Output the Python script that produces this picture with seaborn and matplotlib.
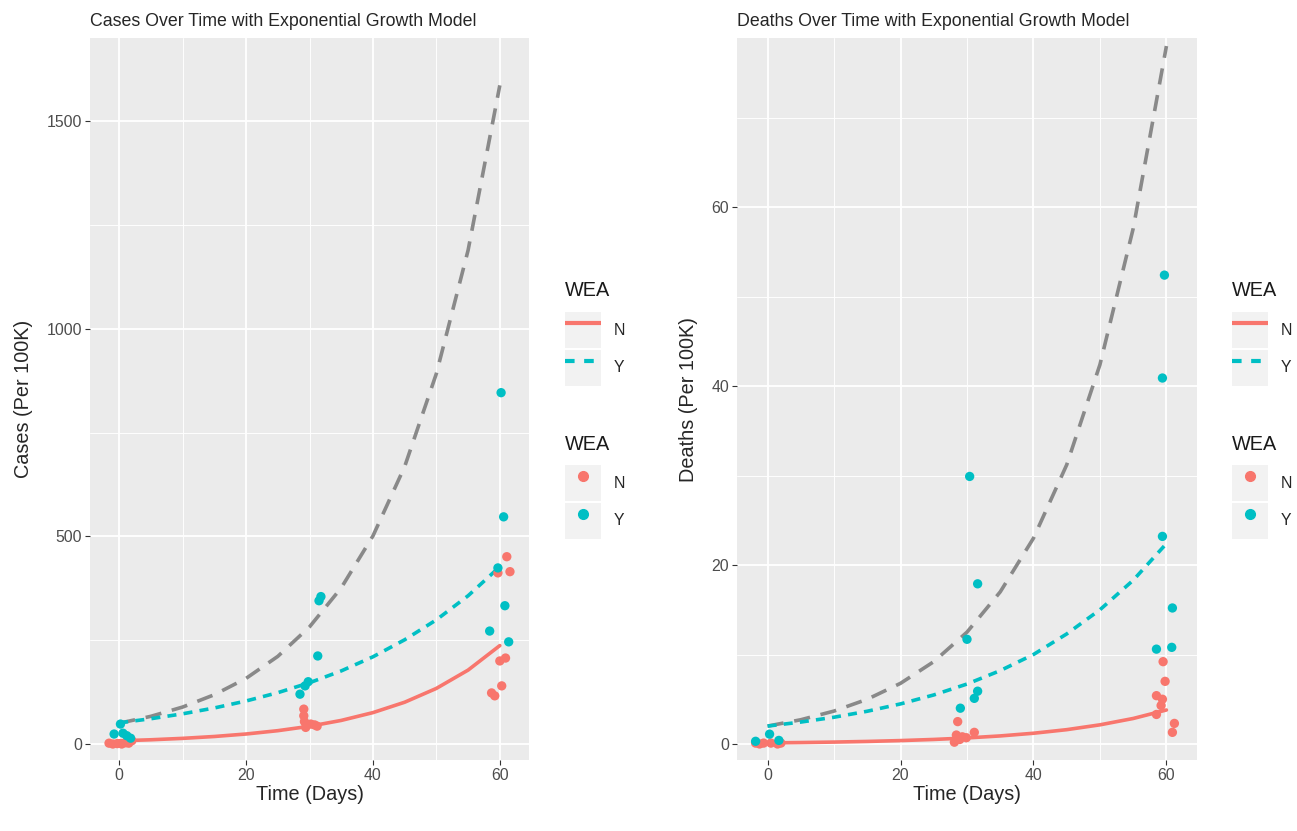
import pandas as pd
import seaborn as sns
import matplotlib.pyplot as plt
from matplotlib.lines import Line2D
from matplotlib.patches import Rectangle
from matplotlib.legend_handler import HandlerTuple

# exponential model curves, every 5 days
model_days = [0, 5, 10, 15, 20, 25, 30, 35, 40, 45, 50, 55, 60]
cases_fit_all = [50, 66.7, 89, 118.7, 158, 211, 282, 376, 501, 668, 892, 1189, 1586]
cases_fit_N = [7.7, 10.2, 13.6, 18.1, 24.1, 32.1, 42.7, 56.8, 75.6, 100.6, 133.9, 178, 237]
cases_fit_Y = [51, 60.9, 72.7, 86.8, 103.6, 123.6, 147.5, 176, 210, 251, 299, 357, 427]
deaths_fit_all = [2.0, 2.71, 3.68, 5.0, 6.78, 9.2, 12.5, 17.0, 23.0, 31.2, 42.4, 57.6, 78]
deaths_fit_N = [0.12, 0.16, 0.213, 0.285, 0.38, 0.507, 0.676, 0.90, 1.20, 1.60, 2.14, 2.85, 3.80]
deaths_fit_Y = [2.0, 2.45, 2.99, 3.66, 4.48, 5.48, 6.70, 8.2, 10.0, 12.3, 15.0, 18.3, 22.4]

# observed (jittered) points
cases_day_N = [-1.6, -1.0, -0.3, 0.4, 1.0, 1.5, 2.0,
               29.1, 29.1, 29.2, 29.4, 30.2, 30.8, 31.2,
               61.1, 59.7, 61.6, 60.0, 60.9, 60.3, 58.7, 59.2]
cases_N = [2, 0, 1, 0, 3, 2, 8,
           84, 68, 54, 40, 48, 46, 43,
           451, 412, 415, 200, 207, 140, 123, 116]
cases_day_Y = [-0.8, 0.2, 0.6, 1.2, 1.8,
               28.5, 29.3, 29.8, 31.3, 31.5, 31.8,
               60.2, 60.6, 59.7, 60.8, 58.4, 61.4]
cases_Y = [24, 48, 26, 20, 14,
           120, 140, 150, 212, 345, 355,
           846, 547, 424, 333, 272, 246]

deaths_day_N = [-1.8, -1.2, -0.6, 0.5, 1.5, 2.0,
                28.6, 28.1, 28.4, 29.3, 29.9, 31.1, 28.9,
                59.5, 59.8, 58.5, 59.4, 59.2, 58.5, 61.2, 60.9]
deaths_N = [0.1, 0.0, 0.1, 0.1, 0.0, 0.1,
            2.5, 0.2, 1.0, 0.8, 0.7, 1.3, 0.5,
            9.2, 7.0, 5.4, 5.0, 4.3, 3.3, 2.3, 1.3]
deaths_day_Y = [-1.8, 0.3, 1.7,
                30.4, 31.6, 30.0, 31.6, 31.1, 29.0,
                59.7, 59.4, 59.4, 60.9, 58.5, 60.8]
deaths_Y = [0.3, 1.1, 0.4,
            29.9, 17.9, 11.7, 5.9, 5.1, 4.0,
            52.4, 40.9, 23.2, 15.2, 10.6, 10.8]

pal = {"N": "#F8766D", "Y": "#00BFC4"}
dash = {"N": "", "Y": (2.5, 2)}

sns.set_theme(style="darkgrid", rc={
    "axes.facecolor": "#EBEBEB", "grid.color": "white",
    "axes.linewidth": 0, "xtick.bottom": True, "ytick.left": True,
    "xtick.color": "#333333", "ytick.color": "#333333",
    "xtick.labelcolor": "#4D4D4D", "ytick.labelcolor": "#4D4D4D",
    "xtick.major.size": 3.5, "ytick.major.size": 3.5,
    "xtick.major.width": 0.8, "ytick.major.width": 0.8,
})
plt.rcParams['font.family'] = ['Liberation Sans', 'DejaVu Sans']

fig = plt.figure(figsize=(12.97, 8.31), dpi=100)
W, H = 1297, 831


def panel(rect, fit_all, fit_N, fit_Y, day_N, val_N, day_Y, val_Y,
          ylim, yticks, yminor, title, ylabel):
    ax = fig.add_axes([rect[0] / W, 1 - rect[3] / H, (rect[2] - rect[0]) / W, (rect[3] - rect[1]) / H])
    fits = pd.DataFrame({
        "Days": model_days * 2,
        "Value": fit_N + fit_Y,
        "WEA": ["N"] * len(model_days) + ["Y"] * len(model_days),
    })
    pts = pd.DataFrame({
        "Days": day_N + day_Y,
        "Value": val_N + val_Y,
        "WEA": ["N"] * len(day_N) + ["Y"] * len(day_Y),
    })
    sns.lineplot(x=model_days, y=fit_all, color="#898989", lw=2.6,
                 linestyle=(0, (4.5, 3)), ax=ax, zorder=3)
    sns.lineplot(data=fits, x="Days", y="Value", hue="WEA", style="WEA",
                 palette=pal, dashes=dash, lw=2.6, legend=False, ax=ax, zorder=4)
    sns.scatterplot(data=pts, x="Days", y="Value", hue="WEA", palette=pal,
                    s=45, linewidth=0, legend=False, ax=ax, zorder=5)
    ax.set_xlim(-4.6, 64.6)
    ax.set_ylim(ylim)
    ax.set_xticks([0, 20, 40, 60])
    ax.set_xticks([10, 30, 50], minor=True)
    ax.set_yticks(yticks)
    ax.set_yticks(yminor, minor=True)
    ax.grid(which="major", color="white", lw=1.3)
    ax.grid(which="minor", color="white", lw=0.65)
    ax.tick_params(which="minor", length=0)
    ax.tick_params(which="major", labelsize=11.4, pad=2)
    ax.set_title(title, loc="left", fontsize=12.8, pad=9)
    ax.set_xlabel("Time (Days)", fontsize=14.3, labelpad=2)
    ax.set_ylabel(ylabel, fontsize=14.3, labelpad=10)
    return ax


panel((90, 38, 529, 760), cases_fit_all, cases_fit_N, cases_fit_Y,
      cases_day_N, cases_N, cases_day_Y, cases_Y,
      (-38.5, 1700), [0, 500, 1000, 1500], [250, 750, 1250],
      "Cases Over Time with Exponential Growth Model", "Cases (Per 100K)")

panel((737, 38, 1197, 760), deaths_fit_all, deaths_fit_N, deaths_fit_Y,
      deaths_day_N, deaths_N, deaths_day_Y, deaths_Y,
      (-1.79, 78.9), [0, 20, 40, 60], [10, 30, 50, 70],
      "Deaths Over Time with Exponential Growth Model", "Deaths (Per 100K)")


def key_bg():
    return Rectangle((0, 0), 1, 1, facecolor="#F2F2F2", edgecolor="none")


def legends(x):
    line_h = [(key_bg(), Line2D([], [], color=pal["N"], lw=3, solid_capstyle="butt")),
              (key_bg(), Line2D([], [], color=pal["Y"], lw=3, linestyle=(0, (2.3, 2.3))))]
    pt_h = [(key_bg(), Line2D([], [], color=pal[k], marker="o", ms=7, lw=0)) for k in ["N", "Y"]]
    for handles, title_y, top in [(line_h, 290, 312), (pt_h, 445, 465)]:
        fig.text(x / W, 1 - title_y / H, "WEA", fontsize=14.3, color="#1A1A1A",
                 ha="left", va="center")
        fig.legend(handles, ["N", "Y"], loc="upper left",
                   bbox_to_anchor=(x / W, 1 - top / H), frameon=False,
                   handler_map={tuple: HandlerTuple(ndivide=1, pad=0)},
                   fontsize=11.4, handlelength=2.27, handleheight=3.12,
                   labelspacing=0.12, handletextpad=0.8,
                   borderpad=0, borderaxespad=0)


legends(565)
legends(1232)

fig.savefig("out.png", dpi=100)
